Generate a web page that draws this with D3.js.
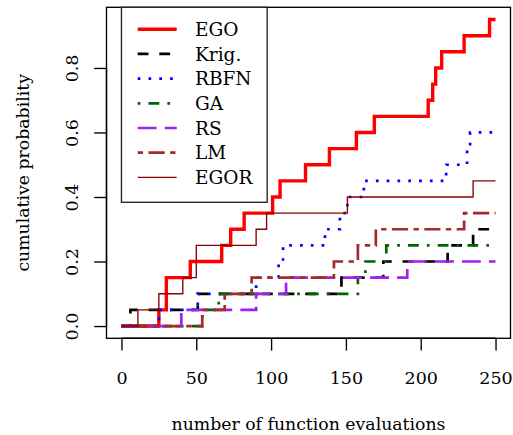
<!DOCTYPE html>
<html>
<head>
<meta charset="utf-8">
<script src="https://cdn.jsdelivr.net/npm/d3@7"></script>
<style>
  html, body { margin: 0; padding: 0; background: #fff; }
</style>
</head>
<body>
<div id="chart"></div>
<script>
// evaluation counts at which each run reached the target (every step = +0.05)
const egoSteps  = [25, 30, 30, 46, 67, 73, 82, 101, 106, 123, 139, 157, 169, 205, 208, 210, 214, 229, 246];
const krigSteps = [6, 51, 147, 175, 218, 235];
const rbfnSteps = [25, 51, 90, 105, 108, 136, 146, 151, 162, 217, 231, 233];
const gaSteps   = [54, 65, 158, 163, 177];
const rsSteps   = [40, 90, 110, 191];
const lmSteps   = [54, 69, 87, 142, 158, 170, 229];
const egorSteps = [11, 25, 41, 50, 50, 90, 97, 151, 235];

const stepSize = 0.05;
const maxEvals = 250;

const seriesNames = ['EGO', 'Krig.', 'RBFN', 'GA', 'RS', 'LM', 'EGOR'];
const seriesSteps = [egoSteps, krigSteps, rbfnSteps, gaSteps, rsSteps, lmSteps, egorSteps];
const seriesColors = ['#ff0000', '#000000', '#0000ff', '#006400', '#a020f0', '#a52a2a', '#8b0000'];
const seriesWidths = [3.4, 2.7, 2.7, 2.7, 2.7, 2.7, 1.35];
const seriesDash = [null, '10.8,10.8', '2.7,8.1', '2.7,8.1,10.8,8.1', '18.9,8.1', '5.4,5.4,16.2,5.4', null];

const xTicks = [0, 50, 100, 150, 200, 250];
const yTicks = [0, 0.2, 0.4, 0.6, 0.8];

const FONT = '"DejaVu Serif", serif';
const W = 513, H = 435;
const box = { left: 106.5, right: 510.5, top: 7.3, bottom: 338.3 };

const svg = d3.select('#chart').append('svg')
  .attr('width', W)
  .attr('height', H)
  .style('font-family', FONT);

const x = d3.scaleLinear().domain([-10, 260]).range([box.left, box.right]);
const y = d3.scaleLinear().domain([-0.038, 0.988]).range([box.bottom, box.top]);

// curves
const line = d3.line()
  .x(d => x(d[0]))
  .y(d => y(d[1]))
  .curve(d3.curveStepAfter);

const curves = svg.append('g').attr('class', 'curves');
seriesSteps.forEach((steps, i) => {
  const pts = [[0, 0]];
  steps.forEach((v, k) => pts.push([v, (k + 1) * stepSize]));
  pts.push([maxEvals, steps.length * stepSize]);
  curves.append('path')
    .attr('d', line(pts))
    .attr('fill', 'none')
    .attr('stroke', seriesColors[i])
    .attr('stroke-width', seriesWidths[i])
    .attr('stroke-dasharray', seriesDash[i]);
});

// frame
svg.append('rect')
  .attr('x', box.left).attr('y', box.top)
  .attr('width', box.right - box.left).attr('height', box.bottom - box.top)
  .attr('fill', 'none').attr('stroke', '#000').attr('stroke-width', 1.35);

// x axis
const xAxis = svg.append('g')
  .attr('transform', `translate(0,${box.bottom})`)
  .call(d3.axisBottom(x).tickValues(xTicks).tickSize(12.3).tickPadding(21).tickFormat(d3.format('d')));
xAxis.attr('font-family', null);
xAxis.select('.domain').attr('d', `M${x(0)},0H${x(250)}`).attr('stroke-width', 1.35);
xAxis.selectAll('.tick line').attr('stroke-width', 1.35);
xAxis.selectAll('.tick text').attr('font-size', 17.5).style('font-family', FONT);

// y axis
const yAxis = svg.append('g')
  .attr('transform', `translate(${box.left},0)`)
  .call(d3.axisLeft(y).tickValues(yTicks).tickSize(12.3).tickFormat(d3.format('.1f')));
yAxis.attr('font-family', null);
yAxis.select('.domain').attr('d', `M0,${y(0)}V${y(0.8)}`).attr('stroke-width', 1.35);
yAxis.selectAll('.tick line').attr('stroke-width', 1.35);
yAxis.selectAll('.tick text')
  .attr('font-size', 17.5).style('font-family', FONT)
  .attr('x', null).attr('dy', null)
  .attr('text-anchor', 'middle')
  .attr('transform', 'translate(-28.5,0) rotate(-90)');

// axis titles
svg.append('text')
  .attr('x', (box.left + box.right) / 2).attr('y', 430)
  .attr('text-anchor', 'middle').attr('font-size', 17.3)
  .style('font-family', FONT)
  .text('number of function evaluations');

svg.append('text')
  .attr('transform', `translate(29.3,${(box.top + box.bottom) / 2}) rotate(-90)`)
  .attr('text-anchor', 'middle').attr('font-size', 17.3)
  .style('font-family', FONT)
  .text('cumulative probability');

// legend
const legend = svg.append('g').attr('class', 'legend');
legend.append('rect')
  .attr('x', x(0)).attr('y', box.top)
  .attr('width', 145.7).attr('height', 195)
  .attr('fill', '#fff').attr('stroke', '#222').attr('stroke-width', 1.35);

seriesNames.forEach((name, i) => {
  const ly = 29.3 + i * 24.67;
  legend.append('line')
    .attr('x1', 137.7).attr('x2', 176.7)
    .attr('y1', ly).attr('y2', ly)
    .attr('stroke', seriesColors[i])
    .attr('stroke-width', seriesWidths[i])
    .attr('stroke-dasharray', seriesDash[i]);
  legend.append('text')
    .attr('x', 195).attr('y', ly)
    .attr('dy', '0.36em')
    .attr('font-size', 18.5)
    .style('font-family', FONT)
    .text(name);
});
</script>
</body>
</html>
